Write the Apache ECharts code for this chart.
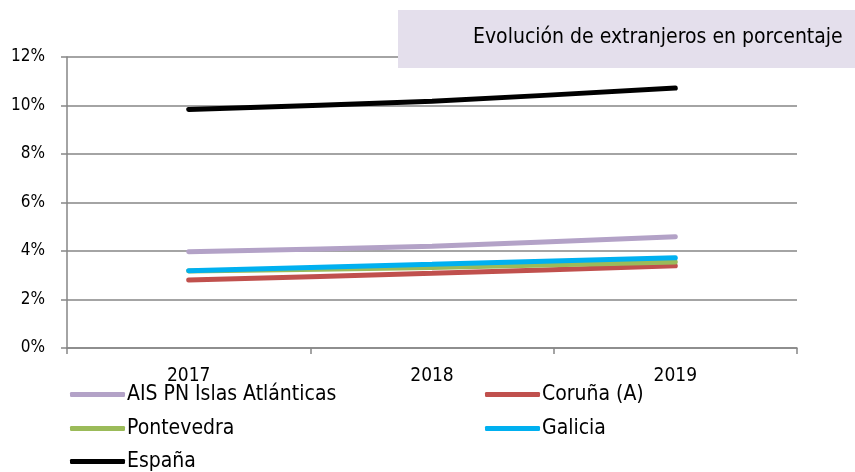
<!DOCTYPE html>
<html>
<head>
<meta charset="utf-8">
<script src="https://cdn.jsdelivr.net/npm/echarts@6/dist/echarts.min.js"></script>
<style>
  html, body { margin: 0; padding: 0; background: #fff; }
  #chart { width: 855px; height: 472px; }
</style>
</head>
<body>
<div id="chart"></div>
<script>
// datos
var years = ['2017', '2018', '2019'];
var ais = [3.97, 4.2, 4.59];
var coruna = [2.8, 3.08, 3.39];
var pontevedra = [3.18, 3.32, 3.55];
var galicia = [3.19, 3.45, 3.72];
var espana = [9.84, 10.18, 10.72];
var yTicks = [0, 2, 4, 6, 8, 10, 12];

var font = "'Liberation Sans Narrow', 'DejaVu Sans Condensed', sans-serif";

var seriesDefs = [
  { name: 'AIS PN Islas Atlánticas', data: ais, color: '#B3A2C7' },
  { name: 'Coruña (A)', data: coruna, color: '#C0504D' },
  { name: 'Pontevedra', data: pontevedra, color: '#9BBB59' },
  { name: 'Galicia', data: galicia, color: '#00B0F0' },
  { name: 'España', data: espana, color: '#000000' }
];

// posiciones de la leyenda (2 columnas)
var legendPos = [[70, 384], [485, 384], [70, 418], [485, 418], [70, 451]];

var myChart = echarts.init(document.getElementById('chart'));
myChart.setOption({
  animation: false,
  textStyle: { fontFamily: font },
  grid: { left: 67, right: 58, top: 57, bottom: 124 },
  graphic: [
    {
      type: 'rect',
      shape: { x: 398, y: 10, width: 460, height: 58 },
      style: { fill: '#E4DFEC' },
      z: 100
    },
    {
      type: 'text',
      left: 473,
      top: 27,
      style: { text: 'Evolución de extranjeros en porcentaje', fontSize: 21, fontFamily: font, fill: '#000' },
      z: 101
    }
  ],
  xAxis: {
    type: 'category',
    data: years,
    boundaryGap: true,
    axisLine: { lineStyle: { color: '#868686', width: 1.5 } },
    axisTick: { show: true, length: 6, lineStyle: { color: '#868686', width: 1.5 } },
    axisLabel: { color: '#000', fontSize: 19, margin: 19 }
  },
  yAxis: {
    type: 'value',
    min: 0,
    max: 12,
    interval: 2,
    axisLine: { show: true, lineStyle: { color: '#868686', width: 1.5 } },
    axisTick: { show: true, length: 6, lineStyle: { color: '#868686', width: 1.5 } },
    splitLine: { lineStyle: { color: '#868686', width: 1.5 } },
    axisLabel: {
      color: '#000', fontSize: 17, margin: 22,
      formatter: function (v) { return yTicks.indexOf(v) >= 0 ? v + '%' : ''; }
    }
  },
  legend: seriesDefs.map(function (s, i) {
    return {
      data: [s.name],
      left: legendPos[i][0],
      top: legendPos[i][1],
      padding: 0,
      itemWidth: 55,
      itemHeight: 5,
      icon: 'roundRect',
      selectedMode: false,
      textStyle: { fontSize: 21, color: '#000', fontFamily: font, padding: [0, 0, 0, -3] }
    };
  }),
  series: seriesDefs.map(function (s) {
    return {
      name: s.name,
      type: 'line',
      data: s.data,
      smooth: 0.25,
      symbol: 'none',
      color: s.color,
      lineStyle: { color: s.color, width: 5, cap: 'round' }
    };
  })
});
</script>
</body>
</html>
